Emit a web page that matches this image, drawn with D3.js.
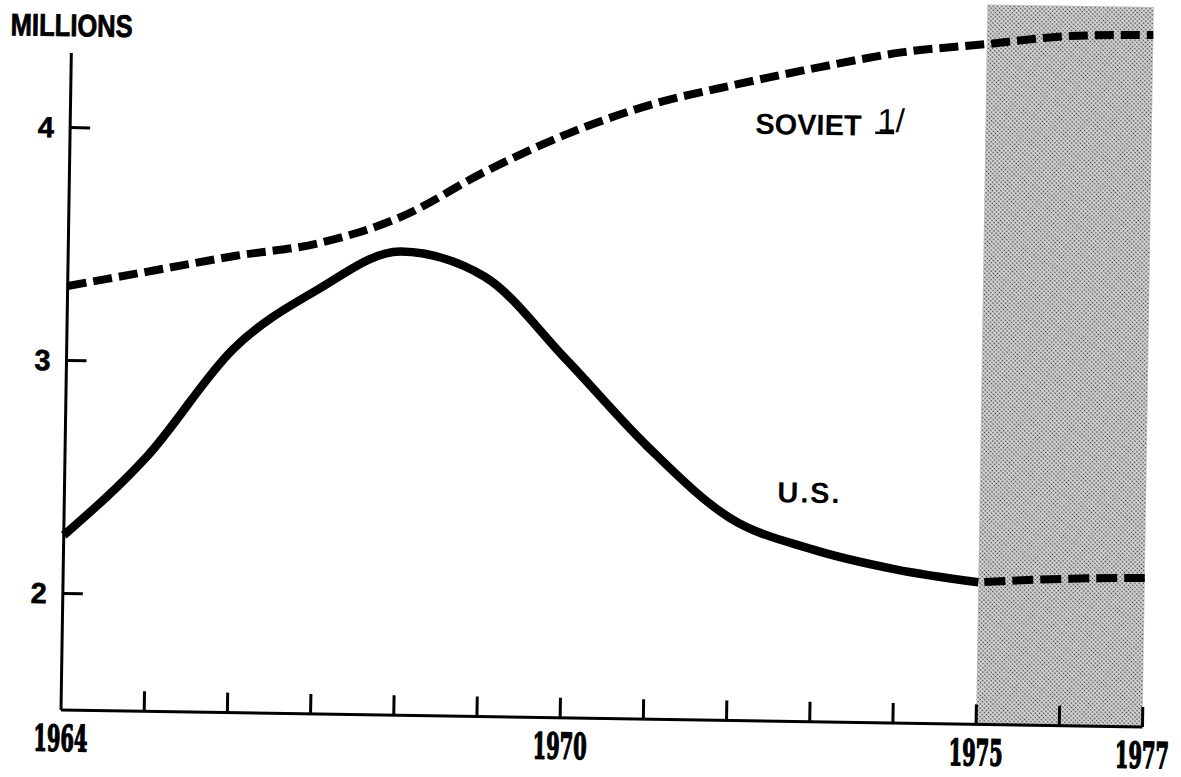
<!DOCTYPE html>
<html>
<head>
<meta charset="utf-8">
<script src="https://cdn.jsdelivr.net/npm/d3@7"></script>
<style>
  body { margin: 0; background: #fff; }
  svg { display: block; }
</style>
</head>
<body>
<div id="my_dataviz"></div>
<script>
// data (millions)
var years = [1964, 1965, 1966, 1967, 1968, 1969, 1970, 1971, 1972, 1973, 1974, 1975, 1976, 1977];
var sovietValues = [3.32, 3.39, 3.46, 3.52, 3.64, 3.84, 4.01, 4.14, 4.23, 4.31, 4.38, 4.42, 4.46, 4.47];
var usValues = [2.25, 2.60, 3.06, 3.32, 3.49, 3.39, 3.04, 2.67, 2.37, 2.24, 2.16, 2.11, 2.13, 2.14];
var yTickValues = [2, 3, 4];
var xTickLabels = [1964, 1970, 1975, 1977];
var projectedYears = [1975, 1977];

// size of the page
var width = 1181,
    height = 777;

var svg = d3.select("#my_dataviz")
    .append("svg")
    .attr("width", width)
    .attr("height", height);

// the scanned original is turned a little, so the whole chart is too
var g = svg.append("g")
    .attr("transform", "rotate(0.9, 61, 710)");

// scales
var x = d3.scaleLinear()
    .domain([1964, 1977])
    .range([61, 1142.6]);

var y = d3.scaleLinear()
    .domain([1.5, 4])
    .range([710, 127.5]);

// halftone pattern for the projected years
var defs = svg.append("defs");
var pat = defs.append("pattern")
    .attr("id", "dots")
    .attr("width", 3)
    .attr("height", 3)
    .attr("patternUnits", "userSpaceOnUse")
    .attr("patternTransform", "rotate(45)");
pat.append("rect")
    .attr("width", 3)
    .attr("height", 3)
    .attr("fill", "#d8d8d8");
pat.append("circle")
    .attr("cx", 1.5)
    .attr("cy", 1.5)
    .attr("r", 0.85)
    .attr("fill", "#3a3a3a");

g.append("rect")
    .attr("x", x(projectedYears[0]))
    .attr("y", -10)
    .attr("width", x(projectedYears[1]) - x(projectedYears[0]))
    .attr("height", y(1.5) + 10)
    .attr("fill", "url(#dots)");

// line generator
var line = d3.line()
    .x(function(d){ return x(d.year) })
    .y(function(d){ return y(d.value) })
    .curve(d3.curveMonotoneX);

var soviet = years.map(function(yr, i){ return {year: yr, value: sovietValues[i]} });
var us = years.map(function(yr, i){ return {year: yr, value: usValues[i]} });

// soviet, dashed all the way
g.append("path")
    .datum(soviet)
    .attr("d", line)
    .attr("fill", "none")
    .attr("stroke", "#000")
    .attr("stroke-width", 8)
    .attr("stroke-dasharray", "19,7");

// u.s., solid until 1975 then dashed
g.append("path")
    .datum(us.filter(function(d){ return d.year <= 1975 }))
    .attr("d", line)
    .attr("fill", "none")
    .attr("stroke", "#000")
    .attr("stroke-width", 8.5);

g.append("path")
    .datum(us.filter(function(d){ return d.year >= 1975 }))
    .attr("d", line)
    .attr("fill", "none")
    .attr("stroke", "#000")
    .attr("stroke-width", 8)
    .attr("stroke-dasharray", "21,7")
    .attr("stroke-dashoffset", -6);

// axes
g.append("line")
    .attr("x1", x(1964)).attr("x2", x(1964))
    .attr("y1", y(1.5)).attr("y2", 53)
    .attr("stroke", "#000")
    .attr("stroke-width", 3);

g.append("line")
    .attr("x1", x(1964)).attr("x2", x(1977))
    .attr("y1", y(1.5)).attr("y2", y(1.5))
    .attr("stroke", "#000")
    .attr("stroke-width", 3);

// year ticks pointing up
g.selectAll("xticks")
    .data(years.slice(1))
    .enter()
    .append("line")
    .attr("x1", function(d){ return x(d) })
    .attr("x2", function(d){ return x(d) })
    .attr("y1", y(1.5))
    .attr("y2", y(1.5) - 20)
    .attr("stroke", "#000")
    .attr("stroke-width", 3);

// value ticks pointing right
g.selectAll("yticks")
    .data(yTickValues)
    .enter()
    .append("line")
    .attr("x1", x(1964))
    .attr("x2", x(1964) + 20)
    .attr("y1", function(d){ return y(d) })
    .attr("y2", function(d){ return y(d) })
    .attr("stroke", "#000")
    .attr("stroke-width", 3);

var sans = "'Liberation Sans', Arial, sans-serif";

g.selectAll("ylabels")
    .data(yTickValues)
    .enter()
    .append("text")
    .attr("x", x(1964) - 16)
    .attr("y", function(d){ return y(d) + 10 })
    .attr("text-anchor", "end")
    .style("font-family", sans)
    .style("font-weight", "bold")
    .style("font-size", "29px")
    .style("stroke", "#000")
    .style("stroke-width", 0.6)
    .text(function(d){ return d });

// year labels, narrow and heavy
g.selectAll("xlabels")
    .data(xTickLabels)
    .enter()
    .append("text")
    .attr("x", function(d){ return x(d) - 27 })
    .attr("y", y(1.5) + 41)
    .attr("textLength", 54)
    .attr("lengthAdjust", "spacingAndGlyphs")
    .style("font-family", "'DejaVu Serif Condensed', 'DejaVu Serif', serif")
    .style("font-weight", "bold")
    .style("font-size", "36px")
    .style("stroke", "#000")
    .style("stroke-width", 1.4)
    .text(function(d){ return d });

// titles and series labels
g.append("text")
    .attr("x", 0)
    .attr("y", 36)
    .attr("textLength", 122)
    .attr("lengthAdjust", "spacingAndGlyphs")
    .style("font-family", sans)
    .style("font-weight", "bold")
    .style("font-size", "31px")
    .style("stroke", "#000")
    .style("stroke-width", 0.8)
    .text("MILLIONS");

g.append("text")
    .attr("x", 746)
    .attr("y", 123)
    .style("font-family", sans)
    .style("font-weight", "bold")
    .style("font-size", "29px")
    .text("SOVIET");

// footnote mark 1/ with the 1 underlined
g.append("text")
    .attr("x", 868)
    .attr("y", 119)
    .style("font-family", sans)
    .style("font-size", "33px")
    .text("1/");
g.append("line")
    .attr("x1", 866).attr("x2", 885)
    .attr("y1", 120).attr("y2", 120)
    .attr("stroke", "#000")
    .attr("stroke-width", 2.5);

g.append("text")
    .attr("x", 774)
    .attr("y", 491)
    .attr("textLength", 62)
    .attr("lengthAdjust", "spacing")
    .style("font-family", sans)
    .style("font-weight", "bold")
    .style("font-size", "29px")
    .text("U.S.");
</script>
</body>
</html>
